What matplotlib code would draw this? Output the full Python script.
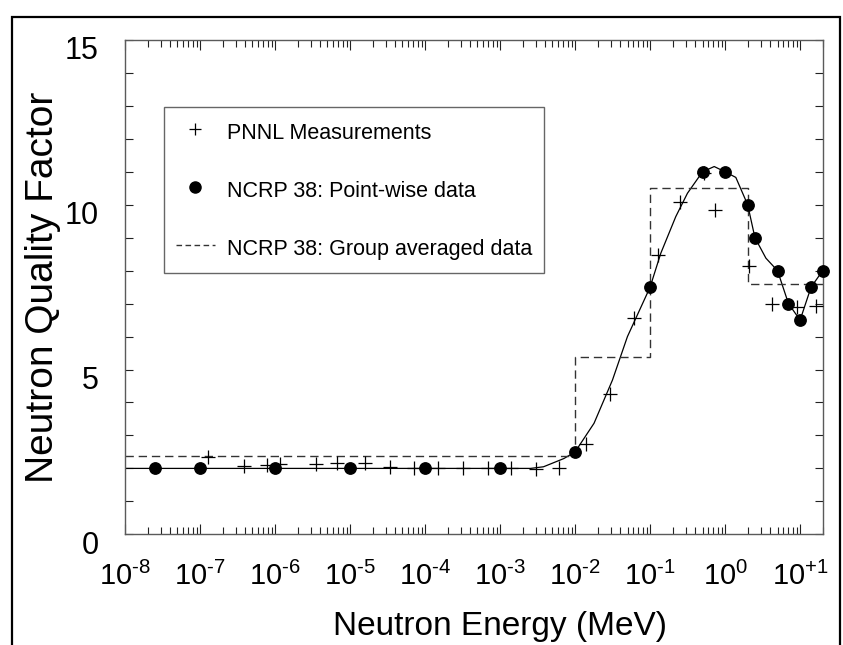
import matplotlib
matplotlib.use("Agg")
import matplotlib.pyplot as plt
import matplotlib.transforms as mtransforms
from matplotlib.lines import Line2D
from matplotlib.patches import Rectangle
from matplotlib.ticker import FixedLocator, LogLocator, NullFormatter

plt.rcParams["font.family"] = ["Liberation Sans", "DejaVu Sans"]
plt.rcParams["mathtext.fontset"] = "custom"
plt.rcParams["mathtext.rm"] = "Liberation Sans"
plt.rcParams["mathtext.it"] = "Liberation Sans:italic"
plt.rcParams["mathtext.bf"] = "Liberation Sans:bold"

# PNNL measurements (energy in MeV)
pnnl_energy = [1.27e-7, 3.9e-7, 7.8e-7, 1.17e-6, 3.55e-6, 6.7e-6, 1.6e-5, 3.4e-5,
               7.1e-5, 1.5e-4, 3.2e-4, 6.8e-4, 1.42e-3, 3.0e-3, 6.1e-3, 1.38e-2,
               2.9e-2, 6.1e-2, 0.126, 0.25, 0.52, 0.73, 2.1, 4.2, 9.1, 16.3]
pnnl_q = [2.35, 2.07, 2.10, 2.14, 2.13, 2.17, 2.15, 2.05,
          2.02, 2.02, 2.02, 2.00, 2.00, 1.99, 2.00, 2.74,
          4.25, 6.56, 8.47, 10.07, 10.95, 9.84, 8.14, 6.98, 6.90, 6.94]

# NCRP 38 point-wise data
ncrp_energy = [2.5e-8, 1e-7, 1e-6, 1e-5, 1e-4, 1e-3, 1e-2, 1e-1,
               0.5, 1.0, 2.0, 2.5, 5.0, 7.0, 10.0, 14.0, 20.0]
ncrp_q = [2.0, 2.0, 2.0, 2.0, 2.0, 2.0, 2.5, 7.5,
          11.0, 11.0, 10.0, 9.0, 8.0, 7.0, 6.5, 7.5, 8.0]

# smooth curve through the point-wise data
curve_energy = [1e-8, 2.5e-8, 1e-7, 1e-6, 1e-5, 1e-4, 1e-3, 2.55e-3, 3.8e-3,
                7.1e-3, 1e-2, 1.79e-2, 3.15e-2, 4.99e-2, 0.1, 0.139, 0.22,
                0.315, 0.5, 0.716, 1.0, 1.39, 2.0, 2.5, 3.5, 5.0, 7.0, 10.0,
                14.0, 20.0]
curve_q = [2.0, 2.0, 2.0, 2.0, 2.0, 2.0, 2.0, 2.0, 2.05,
           2.3, 2.5, 3.37, 4.68, 6.0, 7.5, 8.53, 9.64,
           10.35, 11.0, 11.16, 11.0, 10.83, 10.0, 9.0, 8.38, 8.0, 7.0, 6.5,
           7.5, 8.0]

# NCRP 38 group averaged data (bin edges, value held to the next edge)
group_edges = [1e-8, 1e-2, 1e-1, 2.0, 20.0]
group_q = [2.38, 5.39, 10.5, 7.6, 7.6]

x_ticks = [1e-8, 1e-7, 1e-6, 1e-5, 1e-4, 1e-3, 1e-2, 1e-1, 1e0, 1e1]
x_tick_labels = [r"10$^{\text{-8}}$", r"10$^{\text{-7}}$", r"10$^{\text{-6}}$",
                 r"10$^{\text{-5}}$", r"10$^{\text{-4}}$", r"10$^{\text{-3}}$",
                 r"10$^{\text{-2}}$", r"10$^{\text{-1}}$", r"10$^{\text{0}}$",
                 r"10$^{\text{+1}}$"]
y_ticks = [0, 5, 10, 15]


def main():
    fig = plt.figure(figsize=(8.43, 6.45), dpi=100)
    ax = fig.add_axes([0.1483, 0.1716, 0.9759 - 0.1483, 0.938 - 0.1716])

    ax.plot(curve_energy, curve_q, color="black", lw=0.9, zorder=2)
    ax.plot(group_edges, group_q, drawstyle="steps-post", color="#333333",
            lw=1.0, linestyle=(0, (6, 3.5)), zorder=2)
    ax.plot(pnnl_energy, pnnl_q, linestyle="none", marker="+", ms=9.5, mew=0.9,
            color="black", zorder=3)
    ax.plot(ncrp_energy, ncrp_q, linestyle="none", marker="o", ms=8.2,
            color="black", clip_on=False, zorder=4)

    ax.set_xscale("log")
    ax.set_xlim(1e-8, 20)
    ax.set_ylim(0, 15)

    ax.xaxis.set_major_locator(FixedLocator(x_ticks))
    ax.set_xticklabels(x_tick_labels)
    ax.xaxis.set_minor_locator(LogLocator(base=10, subs=range(2, 10), numticks=50))
    ax.xaxis.set_minor_formatter(NullFormatter())
    ax.set_yticks(y_ticks)
    ax.yaxis.set_minor_locator(FixedLocator(range(0, 16)))

    for spine in ax.spines.values():
        spine.set_color("#5a5a5a")
        spine.set_linewidth(1.0)

    ax.tick_params(axis="both", which="both", direction="in", top=True,
                   right=True, color="#222222", width=0.8)
    ax.tick_params(axis="x", which="major", length=7, labelsize=21, pad=20)
    ax.tick_params(axis="x", which="minor", length=5)
    ax.tick_params(axis="y", which="both", length=6)
    ax.tick_params(axis="y", which="major", labelsize=22, pad=19)

    shift = mtransforms.ScaledTranslation(0, -8 / 100, fig.dpi_scale_trans)
    for label in ax.get_yticklabels():
        label.set_transform(label.get_transform() + shift)

    ax.set_xlabel("Neutron Energy (MeV)", fontsize=24)
    ax.set_ylabel("Neutron Quality Factor", fontsize=28)
    ax.xaxis.set_label_coords(0.537, -0.156)
    ax.yaxis.set_label_coords(-0.092, 0.5)

    handles = [
        Line2D([], [], linestyle="none", marker="+", ms=9, mew=0.9, color="black"),
        Line2D([], [], linestyle="none", marker="o", ms=8, color="black"),
        Line2D([], [], color="#333333", lw=1.0, linestyle=(0, (4, 2.5))),
    ]
    labels = ["PNNL Measurements", "NCRP 38: Point-wise data",
              "NCRP 38: Group averaged data"]
    legend = ax.legend(handles, labels, loc="upper left",
                       bbox_to_anchor=(0.056, 0.8645), fontsize=15.5,
                       frameon=True, fancybox=False, borderpad=0.55,
                       handleheight=1.55, labelspacing=1.43,
                       handlelength=1.8, handletextpad=0.55,
                       borderaxespad=0.0)
    frame = legend.get_frame()
    frame.set_edgecolor("#666666")
    frame.set_linewidth(1.0)
    frame.set_alpha(1.0)

    border = Rectangle((12 / 843, -0.05), (840 - 12) / 843, 1.05 - 17 / 645,
                       transform=fig.transFigure, fill=False, edgecolor="black",
                       linewidth=1.6, clip_on=False)
    fig.patches.append(border)

    fig.savefig("out.png", dpi=100)


if __name__ == "__main__":
    main()
